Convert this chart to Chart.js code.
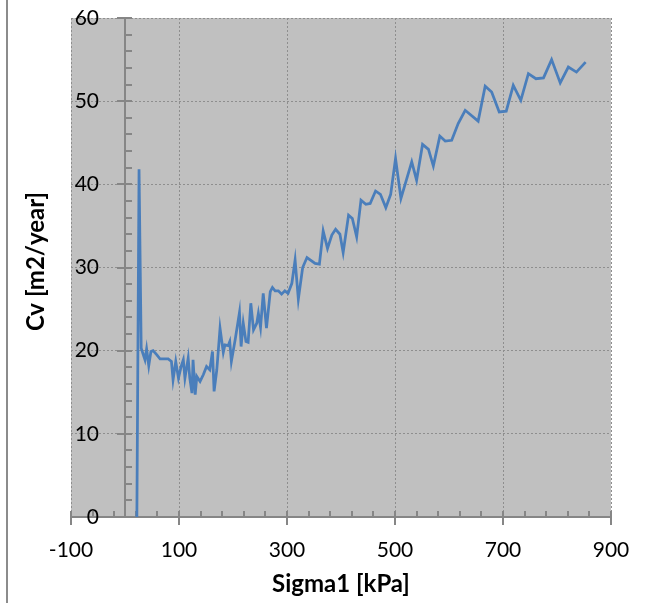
<!DOCTYPE html>
<html>
<head>
<meta charset="utf-8">
<script src="https://cdn.jsdelivr.net/npm/chart.js@4.4.1/dist/chart.umd.min.js"></script>
<style>
  html, body { margin: 0; padding: 0; background: #fff; }
  #wrap { width: 652px; height: 603px; }
</style>
</head>
<body>
<div id="wrap"><canvas id="cvChart" width="652" height="603"></canvas></div>
<script>
// Cv vs Sigma1

const SIGMA1 = [
  22, 26, 30, 37, 40, 44, 48, 52, 59, 65, 80, 86, 89, 94, 99, 104, 108, 111,
  114, 117, 120, 124, 126, 130, 133, 139, 145, 151, 157, 162, 165, 170, 176,
  182, 185, 191, 194, 197, 204, 212, 215, 219, 224, 228, 233, 238, 244, 247,
  251, 256, 262, 269, 273, 278, 284, 290, 296, 302, 309, 315, 321, 329, 337,
  352, 360, 367, 375, 383, 390, 398, 404, 414, 421, 429, 437, 446, 454, 464,
  473, 483, 492, 501, 511, 531, 540, 551, 562, 571, 583, 593, 605, 617, 630,
  654, 667, 679, 693, 706, 719, 733, 747, 761, 775, 790, 806, 821, 836, 853,
];

const CV = [
  0, 41.8, 20.3, 18.9, 20.2, 18.2, 19.9, 20.0, 19.5, 19.0, 19.0, 18.7, 16.5,
  18.7, 16.7, 18.1, 18.9, 16.7, 17.9, 19.1, 16.7, 14.9, 18.9, 14.7, 16.9, 16.3,
  17.1, 18.1, 17.7, 19.9, 15.1, 17.7, 22.7, 19.8, 20.7, 20.6, 21.1, 18.7, 21.3,
  24.6, 20.5, 23.3, 21.1, 21.0, 25.7, 22.5, 23.3, 24.5, 22.8, 26.9, 22.7, 27.1,
  27.6, 27.2, 27.2, 26.8, 27.2, 26.9, 28.1, 30.9, 26.2, 30.0, 31.2, 30.5, 30.4,
  34.4, 32.3, 33.9, 34.6, 34.0, 31.8, 36.3, 35.9, 33.7, 38.1, 37.6, 37.7, 39.2,
  38.8, 37.2, 38.8, 43.1, 38.3, 42.7, 40.5, 44.8, 44.2, 42.2, 45.8, 45.2, 45.3,
  47.3, 48.9, 47.6, 51.8, 51.1, 48.7, 48.8, 51.9, 50.1, 53.3, 52.7, 52.8, 55.0,
  52.2, 54.1, 53.5, 54.7,
];

// Axis ranges and tick steps
const X_RANGE = [-100, 900];
const X_MAJOR = 200;
const X_MINOR = 40;
const Y_RANGE = [0, 60];
const Y_MAJOR = 10;
const Y_MINOR = 2;

const X_TITLE = "Sigma1 [kPa]";
const Y_TITLE = "Cv [m2/year]";

const LINE_CLR = "#4A7EBB";
const PLOT_BG = "#C0C0C0";
const GRID_CLR = "#8E8E8E";
const AXIS_CLR = "#868686";
const FONT = "Lato, 'Open Sans', sans-serif";

// ─── Plot background + outer frame line ──────────────────────────────────────

const plotBackground = {
  id: "plotBackground",
  beforeDraw(chart) {
    const { ctx, chartArea: a } = chart;
    ctx.save();
    ctx.fillStyle = "#fff";
    ctx.fillRect(0, 0, chart.width, chart.height);
    ctx.fillStyle = PLOT_BG;
    ctx.fillRect(a.left, a.top, a.right - a.left, a.bottom - a.top);
    // only the left edge of the chart frame is visible in the picture
    ctx.strokeStyle = "#8C8C8C";
    ctx.lineWidth = 2;
    ctx.beginPath();
    ctx.moveTo(7, 0);
    ctx.lineTo(7, chart.height);
    ctx.stroke();
    ctx.restore();
  },
};

// ─── Axes crossing at (0,0), Excel-style tick marks ──────────────────────────

function seg(ctx, x1, y1, x2, y2) {
  ctx.beginPath();
  ctx.moveTo(x1, y1);
  ctx.lineTo(x2, y2);
  ctx.stroke();
}

const crossAxes = {
  id: "crossAxes",
  beforeDatasetsDraw(chart) {
    const { ctx } = chart;
    const { x, y } = chart.scales;
    const x0 = Math.round(x.getPixelForValue(0));
    const y0 = Math.round(y.getPixelForValue(0));

    ctx.save();
    ctx.strokeStyle = AXIS_CLR;
    ctx.lineWidth = 2;
    seg(ctx, x0, y.top, x0, y.bottom);
    seg(ctx, x.left, y0, x.right, y0);

    for (let v = Y_RANGE[0]; v <= Y_RANGE[1]; v += Y_MINOR) {
      const py = Math.round(y.getPixelForValue(v));
      if (v % Y_MAJOR === 0) seg(ctx, x0 - 8, py, x0 + 7, py);
      else seg(ctx, x0, py, x0 + 7, py);
    }

    for (let v = X_RANGE[0]; v <= X_RANGE[1]; v += X_MINOR) {
      const px = Math.round(x.getPixelForValue(v));
      if ((v - X_RANGE[0]) % X_MAJOR === 0) seg(ctx, px, y0 - 6, px, y0 + 8);
      else seg(ctx, px, y0 - 6, px, y0);
    }
    ctx.restore();
  },

  afterDraw(chart) {
    const { ctx, chartArea: a } = chart;
    const { x, y } = chart.scales;
    const y0 = y.getPixelForValue(0);

    ctx.save();
    ctx.fillStyle = "#000";
    ctx.font = `21px ${FONT}`;
    ctx.textBaseline = "middle";

    ctx.textAlign = "right";
    y.ticks.forEach((t) => {
      ctx.fillText(String(t.value), a.left + 28, y.getPixelForValue(t.value));
    });

    ctx.textAlign = "center";
    x.ticks.forEach((t) => {
      ctx.fillText(String(t.value), x.getPixelForValue(t.value), y0 + 33);
    });

    ctx.font = `bold 24px ${FONT}`;
    ctx.fillText(X_TITLE, (a.left + a.right) / 2, y0 + 67);

    ctx.translate(36, (a.top + a.bottom) / 2 - 6);
    ctx.rotate(-Math.PI / 2);
    ctx.fillText(Y_TITLE, 0, 0);
    ctx.restore();
  },
};

// ─── Chart ───────────────────────────────────────────────────────────────────

const points = SIGMA1.map((s, i) => ({ x: s, y: CV[i] }));

new Chart(document.getElementById("cvChart"), {
  type: "line",
  data: {
    datasets: [
      {
        data: points,
        borderColor: LINE_CLR,
        borderWidth: 2.75,
        pointRadius: 0,
        fill: false,
        tension: 0,
      },
    ],
  },
  options: {
    responsive: false,
    animation: false,
    layout: { padding: { left: 71, right: 41, top: 18, bottom: 86 } },
    plugins: {
      legend: { display: false },
      tooltip: { enabled: false },
    },
    scales: {
      x: {
        type: "linear",
        min: X_RANGE[0],
        max: X_RANGE[1],
        ticks: { stepSize: X_MAJOR, display: false },
        grid: { color: GRID_CLR, lineWidth: 1, drawTicks: false },
        border: { display: false, dash: [2, 2] },
        afterFit: (s) => { s.height = 0; },
      },
      y: {
        min: Y_RANGE[0],
        max: Y_RANGE[1],
        ticks: { stepSize: Y_MAJOR, display: false },
        grid: { color: GRID_CLR, lineWidth: 1, drawTicks: false },
        border: { display: false, dash: [2, 2] },
        afterFit: (s) => { s.width = 0; },
      },
    },
  },
  plugins: [plotBackground, crossAxes],
});
</script>
</body>
</html>
